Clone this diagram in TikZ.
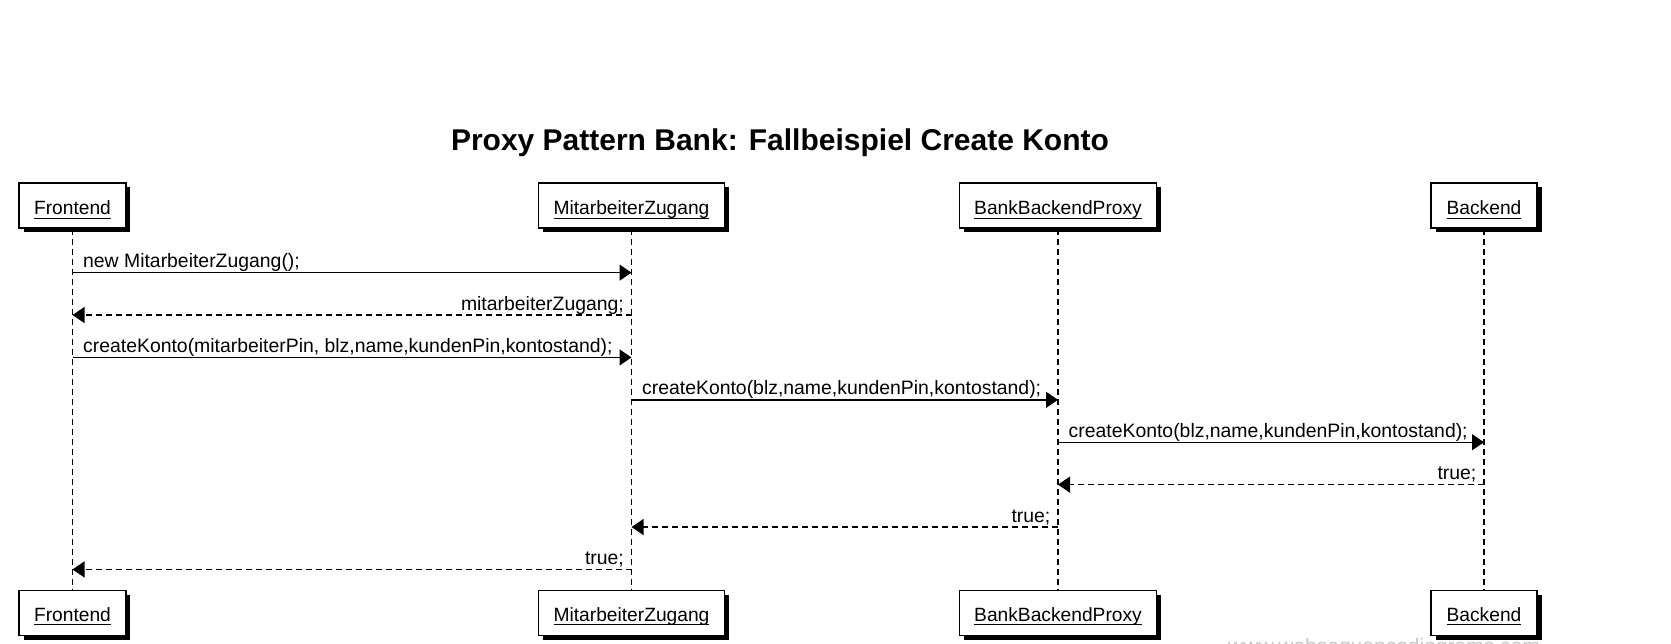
\documentclass[tikz,border=0pt]{standalone}
\usepackage{fontspec}
\setmainfont{Liberation Sans}
\usetikzlibrary{arrows.meta, positioning, shadows}
\newcommand{\msgfont}{\fontsize{19.4}{22}\selectfont}
\newcommand{\lifename}[1]{\setbox0\hbox{#1}\rlap{\rule[-4.2pt]{\wd0}{1.3pt}}\box0}

\begin{document}
\begin{tikzpicture}[x=1pt, y=-1pt]
\tikzstyle{lifebox} = [rectangle, draw=black, line width=1.3pt, fill=white, minimum width=106pt, minimum height=45pt, inner xsep=15pt, text height=19pt, text depth=0pt, font=\fontsize{19.2}{22}\selectfont, drop shadow={shadow xshift=4.5pt, shadow yshift=-4.5pt, opacity=1, fill=black}]
\tikzstyle{footbox} = [lifebox, text height=16.5pt]
\tikzstyle{lifeline} = [line width=1.3pt, dash pattern=on 6pt off 4pt]
\tikzstyle{call} = [line width=1.3pt, -{Triangle[length=12pt, width=16pt]}]
\tikzstyle{answer} = [call, dash pattern=on 6pt off 4pt]
\tikzstyle{calltext} = [pos=0, anchor=base west, inner sep=0pt, xshift=10pt, yshift=5pt, font=\msgfont]
\tikzstyle{answertext} = [pos=0, anchor=base east, inner sep=0pt, xshift=-7pt, yshift=5pt, font=\msgfont]

\useasboundingbox (0,0) rectangle (1671,644);

% Title
\node (title) at (780,151) [anchor=base, font=\bfseries\fontsize{30}{36}\selectfont] {Proxy Pattern Bank: Fallbeispiel Create Konto};

% Participants on top
\node (fe) [lifebox] at (72.5,205.5) {\lifename{Frontend}};
\node (mz) [lifebox] at (631.5,205.5) {\lifename{MitarbeiterZugang}};
\node (bbp) [lifebox] at (1058,205.5) {\lifename{BankBackendProxy}};
\node (be) [lifebox] at (1484,205.5) {\lifename{Backend}};

% Participants at the bottom
\node (fe-bot) [footbox, below=361pt of fe] {\lifename{Frontend}};
\node (mz-bot) [footbox, below=361pt of mz] {\lifename{MitarbeiterZugang}};
\node (bbp-bot) [footbox, below=361pt of bbp] {\lifename{BankBackendProxy}};
\node (be-bot) [footbox, below=361pt of be] {\lifename{Backend}};

% Lifelines and message rows
\foreach \l in {fe, mz, bbp, be} {
    \draw[lifeline] (\l.south) -- (\l-bot.north);
    \foreach \i in {1,...,8} {
        \path (\l.south) ++(0,{1.6+42.4*\i}) coordinate (\l-\i);
    }
}

% Messages
\draw[call] (fe-1) -- node[calltext] {new MitarbeiterZugang();} (mz-1);
\draw[answer] (mz-2) -- node[answertext] {mitarbeiterZugang;} (fe-2);
\draw[call] (fe-3) -- node[calltext] {createKonto(mitarbeiterPin, blz,name,kundenPin,kontostand);} (mz-3);
\draw[call] (mz-4) -- node[calltext] {createKonto(blz,name,kundenPin,kontostand);} (bbp-4);
\draw[call] (bbp-5) -- node[calltext] {createKonto(blz,name,kundenPin,kontostand);} (be-5);
\draw[answer] (be-6) -- node[answertext] {true;} (bbp-6);
\draw[answer] (bbp-7) -- node[answertext] {true;} (mz-7);
\draw[answer] (mz-8) -- node[answertext] {true;} (fe-8);

% Watermark, cut off by the page edge
\node (wsd) at (1228,653) [anchor=base west, inner sep=0pt, text=gray!45, font=\fontsize{21}{24}\selectfont] {www.websequencediagrams.com};

\end{tikzpicture}
\end{document}
